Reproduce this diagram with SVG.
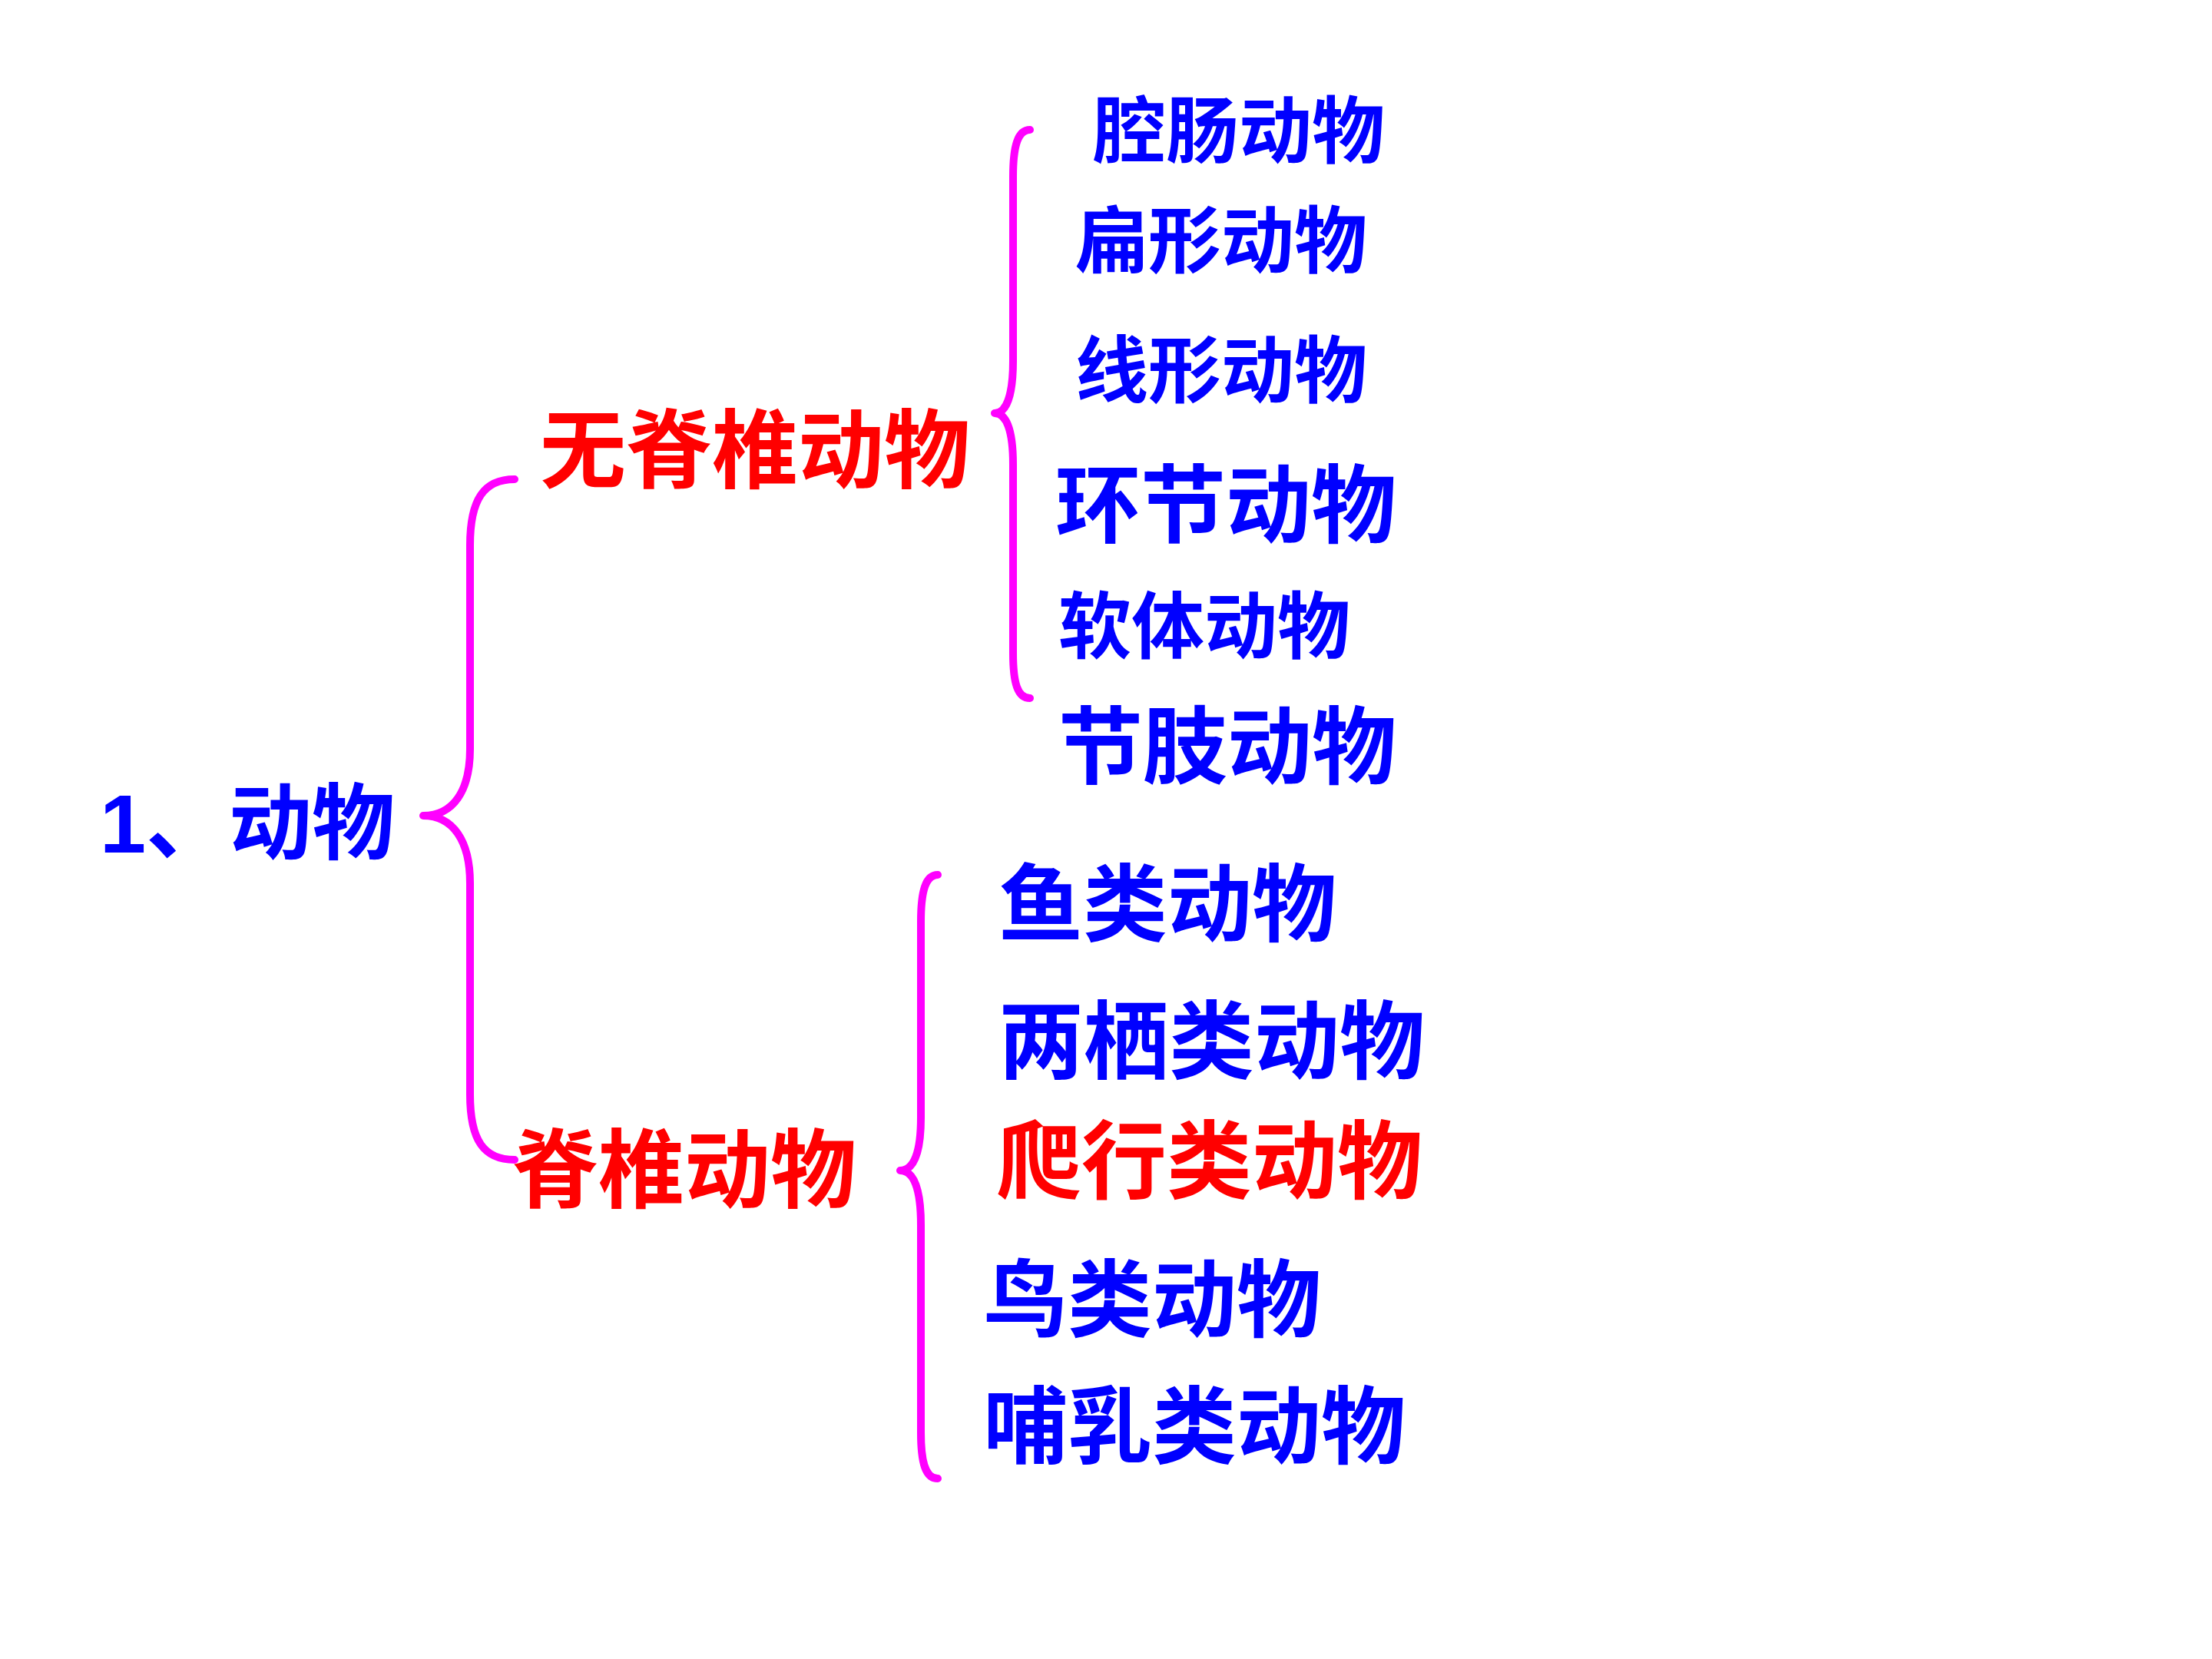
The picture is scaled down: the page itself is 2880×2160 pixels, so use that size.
<svg xmlns="http://www.w3.org/2000/svg" width="2880" height="2160" viewBox="0 0 2880 2160">
<style>
text{font-family:"Liberation Sans","Noto Sans CJK SC",sans-serif;font-weight:700}
.b{fill:#0000FF}
.r{fill:#FF0000}
.br{fill:none;stroke:#FF00FF;stroke-width:10;stroke-linecap:round;stroke-linejoin:round}
</style>
<rect width="2880" height="2160" fill="#FFFFFF"/>
<g id="connectors">
<path class="br" d="M 670 624 C 630 624 612 650 612 710 L 612 975 C 612 1030 590 1062 551 1062 C 590 1062 612 1095 612 1150 L 612 1425 C 612 1485 630 1510 670 1510"/>
<path class="br" d="M 1341 169 C 1325 169 1319 190 1319 230 L 1319 470 C 1319 515 1310 538 1295 538 C 1310 538 1319 560 1319 605 L 1319 850 C 1319 890 1325 909 1341 909"/>
<path class="br" d="M 1221 1139 C 1205 1139 1199 1160 1199 1200 L 1199 1455 C 1199 1500 1190 1524 1172 1524 C 1190 1524 1199 1548 1199 1595 L 1199 1865 C 1199 1905 1205 1925 1221 1925"/>
</g>
<g id="root"><text class="b" x="130" y="1110" font-size="108">1、动物</text></g>
<g id="invertebrate"><text class="r" x="703" y="627" font-size="112">无脊椎动物</text></g>
<g id="vertebrate"><text class="r" x="667" y="1564" font-size="112">脊椎动物</text></g>
<g id="n1"><text class="b" x="1423" y="205" font-size="95">腔肠动物</text></g>
<g id="n2"><text class="b" x="1400" y="348" font-size="95">扁形动物</text></g>
<g id="n3"><text class="b" x="1400" y="517" font-size="95">线形动物</text></g>
<g id="n4"><text class="b" x="1374" y="698" font-size="111">环节动物</text></g>
<g id="n5"><text class="b" x="1378" y="850" font-size="95">软体动物</text></g>
<g id="n6"><text class="b" x="1378" y="1012" font-size="110">节肢动物</text></g>
<g id="v1"><text class="b" x="1300" y="1217" font-size="110">鱼类动物</text></g>
<g id="v2"><text class="b" x="1300" y="1396" font-size="111">两栖类动物</text></g>
<g id="v3"><text class="r" x="1297" y="1552" font-size="111">爬行类动物</text></g>
<g id="v4"><text class="b" x="1280" y="1732" font-size="110">鸟类动物</text></g>
<g id="v5"><text class="b" x="1280" y="1897" font-size="110">哺乳类动物</text></g>
</svg>
